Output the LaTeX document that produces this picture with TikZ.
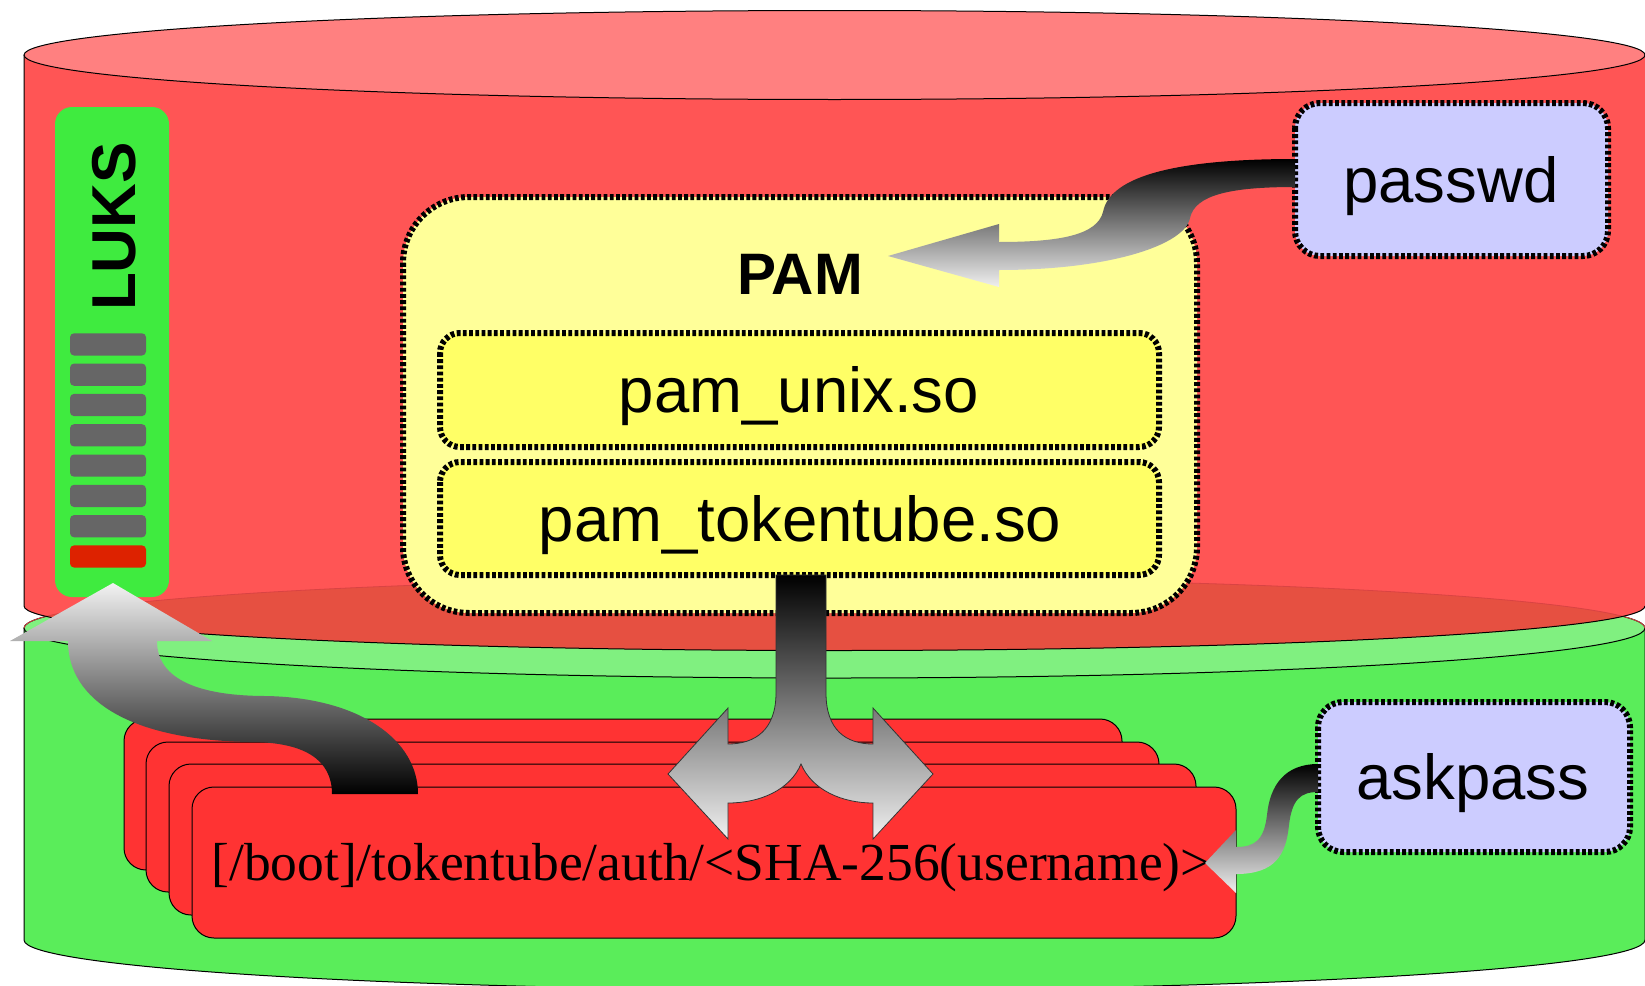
\documentclass[tikz,border=0pt]{standalone}
\usepackage{fontspec}
\setmainfont{Liberation Serif}
\setsansfont{Liberation Sans}
\definecolor{redbody}{HTML}{FF5555}
\definecolor{redtop}{HTML}{FF8080}
\definecolor{redshade}{HTML}{E65041}
\definecolor{redline}{HTML}{D94343}
\definecolor{greenbody}{HTML}{5AED5A}
\definecolor{greentop}{HTML}{80F080}
\definecolor{luksgreen}{HTML}{3FEB3F}
\definecolor{bargrey}{HTML}{666666}
\definecolor{barred}{HTML}{DD2200}
\definecolor{pamouter}{HTML}{FFFF99}
\definecolor{paminner}{HTML}{FFFF66}
\definecolor{lavender}{HTML}{CCCCFF}
\definecolor{slotred}{HTML}{FF3333}
\newcommand{\lukfont}{\sffamily\bfseries\fontsize{62}{70}\selectfont}
\newcommand{\pamfont}{\sffamily\bfseries\fontsize{58.5}{64}\selectfont}
\newcommand{\modfont}{\sffamily\fontsize{63.5}{70}\selectfont}
\newcommand{\slotfont}{\rmfamily\fontsize{53.5}{60}\selectfont}
\tikzset{every picture/.style={line width=0.75pt}}
\tikzset{
dotframe/.style={line width=6pt, dash pattern=on 3.8pt off 2.4pt},
slot/.style={fill=slotred, draw=black, line width=1pt, rounded corners=22pt},
downshade/.style={top color=black, bottom color=black!6},
upshade/.style={top color=black!5, bottom color=black}}

\begin{document}
\begin{tikzpicture}[x=1pt,y=1pt,yscale=-1]
\useasboundingbox (0,0) rectangle (1645,985);

%Shape: Can [id:green disk]
\draw [fill=greenbody, line width=1pt] (24,628) -- (24,940) arc [start angle=180, end angle=0, x radius=810.5, y radius=50] -- (1645,628) ;
\draw [fill=greentop, line width=1pt] (834.5,628) ellipse [x radius=810.5, y radius=50] ;
%Shape: Can [id:red disk]
\fill [redbody] (24,55) -- (24,606) arc [start angle=180, end angle=0, x radius=810.5, y radius=44.5] -- (1645,55) -- cycle ;
\begin{scope}
\clip (834.5,628) ellipse [x radius=810.5, y radius=50] ;
\fill [redshade] (24,55) -- (24,606) arc [start angle=180, end angle=0, x radius=810.5, y radius=44.5] -- (1645,55) -- cycle ;
\end{scope}
\draw [redline, line width=0.8pt] (24,628) arc [start angle=180, end angle=360, x radius=810.5, y radius=50] ;
\draw [line width=1pt] (24,55) -- (24,606) arc [start angle=180, end angle=0, x radius=810.5, y radius=44.5] ;
\draw [fill=redtop, line width=1pt] (834.5,55) ellipse [x radius=810.5, y radius=44.5] ;

%Rounded Rect [id:luks]
\fill [luksgreen, rounded corners=17pt] (55,107) rectangle (169,597) ;
\foreach \i in {0,...,6}
  \fill [bargrey, rounded corners=4pt] (70,{333.3+30.3*\i}) rectangle (146,{355.5+30.3*\i}) ;
\fill [barred, rounded corners=4pt] (70,545.4) rectangle (146,567.5) ;
% Text Node
\draw (135,226.5) node [anchor=base, rotate=90][inner sep=0pt] [font=\lukfont] (luks) {LUKS};

%Rounded Rect [id:pam]
\draw [fill=pamouter, dotframe, rounded corners=66pt] (403,197) rectangle (1197,613) ;
\draw [fill=paminner, dotframe, rounded corners=20pt] (440,333) rectangle (1159,447) ;
\draw [fill=paminner, dotframe, rounded corners=20pt] (440,462) rectangle (1159,575) ;
% Text Node
\draw (800,294) node [anchor=base][inner sep=0pt] [font=\pamfont] (pam) {PAM};
% Text Node
\draw (799,412) node [anchor=base][inner sep=0pt] [font=\modfont] (unix) {pam\_unix.so};
% Text Node
\draw (800,541) node [anchor=base][inner sep=0pt] [font=\modfont] (tube) {pam\_tokentube.so};

%Rounded Rect [id:passwd]
\draw [fill=lavender, dotframe, rounded corners=25pt] (1295,103) rectangle (1608,256) ;
% Text Node
\draw (1451,202) node [anchor=base][inner sep=0pt] [font=\modfont] (passwd) {passwd};
%Rounded Rect [id:askpass]
\draw [fill=lavender, dotframe, rounded corners=25pt] (1318,702) rectangle (1630,852) ;
% Text Node
\draw (1473,799) node [anchor=base][inner sep=0pt] [font=\modfont] (askpass) {askpass};

%Stacked Rects [id:token files]
\draw [slot] (124,719) rectangle (1122,870) ;
\draw [slot] (146,742) rectangle (1159,892) ;
\draw [slot] (169,764) rectangle (1196,915) ;
\draw [slot] (192,787) rectangle (1236,938) ;
% Text Node
\draw (711,880) node [anchor=base][inner sep=0pt] [font=\slotfont] (file) {[/boot]/tokentube/auth/<SHA-256(username)>};

%Curve Arrow [id:tube to files]
\shade [downshade, draw=black!80, line width=0.8pt] (776,575) -- (776,693) .. controls (776,730) and (755,744) .. (728,744) -- (728,708) -- (668,774) -- (728,839) -- (728,803) .. controls (760,803) and (790,790) .. (801,764) .. controls (812,790) and (842,803) .. (873,803) -- (873,839) -- (933,774) -- (873,708) -- (873,744) .. controls (846,744) and (826,730) .. (826,693) -- (826,575) -- cycle ;
%Curve Arrow [id:files to luks]
\shade [upshade] (332,794) .. controls (332,760) and (305,742) .. (250,742) .. controls (130,740) and (68,700) .. (68,641) -- (10,641) -- (113,583) -- (212,641) -- (157,641) .. controls (157,680) and (200,696) .. (267,696) .. controls (360,698) and (418,740) .. (418,794) -- cycle ;
%Curve Arrow [id:passwd to pam]
\shade [downshade] (1295,159) .. controls (1180,159) and (1110,175) .. (1103,212) .. controls (1097,235) and (1060,242) .. (999,242) -- (999,224) -- (888,256) -- (999,287) -- (999,270) .. controls (1110,270) and (1185,245) .. (1190,218) .. controls (1195,195) and (1230,187) .. (1295,187) -- cycle ;
%Curve Arrow [id:askpass to files]
\shade [downshade] (1318,764) .. controls (1285,764) and (1270,785) .. (1267,815) .. controls (1264,840) and (1255,847) .. (1236,847) -- (1236,830) -- (1205,863) -- (1236,893) -- (1236,874) .. controls (1275,874) and (1286,855) .. (1289,825) .. controls (1292,800) and (1300,792) .. (1318,792) -- cycle ;

\end{tikzpicture}
\end{document}
